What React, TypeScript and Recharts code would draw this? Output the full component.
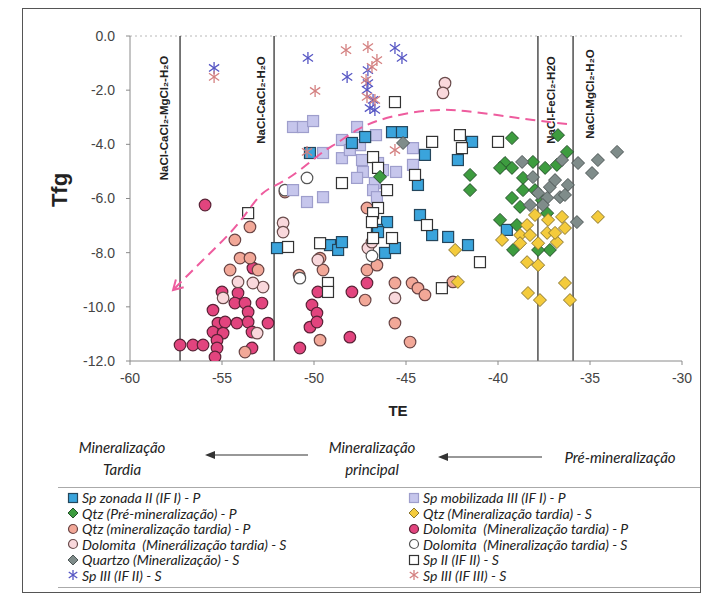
import { ScatterChart, Scatter, XAxis, YAxis, ReferenceLine } from "recharts";

// TE (x) / Tfg (y) readings, one list per series
const spZonadaII = [
  [-50.22, -4.32], [-47.94, -3.95], [-47.22, -3.73], [-45.76, -3.55], [-45.22, -3.55],
  [-46.03, -6.87], [-46.58, -7.16], [-43.97, -4.39], [-44.35, -5.5], [-41.41, -3.91],
  [-42.18, -4.58], [-44.24, -6.61], [-43.58, -7.35], [-42.71, -7.42], [-39.52, -7.16],
  [-49.13, -7.72], [-48.69, -7.9], [-48.48, -7.61], [-46.52, -7.24], [-46.14, -8.01],
  [-45.6, -7.83], [-41.63, -7.72], [-52.01, -7.83],
];
const spMobilizadaIII = [
  [-51.14, -3.36], [-50.6, -3.36], [-50.05, -3.14], [-47.66, -3.36], [-46.63, -3.66],
  [-48.48, -3.84], [-47.5, -4.03], [-49.51, -4.32], [-48.48, -4.51], [-47.39, -4.58],
  [-46.52, -4.69], [-47.34, -5.02], [-45.54, -5.02], [-44.62, -4.76], [-44.62, -4.14],
  [-51.14, -5.69], [-50.38, -6.13], [-49.51, -5.95], [-47.66, -5.24], [-46.69, -5.43],
  [-46.79, -5.69], [-46.58, -5.95], [-48.05, -4.21], [-46.25, -4.95],
];
const spII = [
  [-45.6, -2.44], [-46.79, -4.47], [-46.52, -4.87], [-48.48, -5.43], [-46.03, -5.69],
  [-46.52, -6.35], [-46.79, -6.54], [-46.85, -6.87], [-43.58, -3.91], [-42.07, -3.66],
  [-41.96, -4.14], [-44.51, -5.13], [-40.0, -3.91], [-43.86, -6.98], [-46.79, -7.46],
  [-45.76, -7.46], [-49.67, -7.65], [-49.24, -9.12], [-49.24, -9.45], [-43.05, -9.31],
  [-40.98, -8.35], [-53.58, -6.54], [-51.41, -7.79],
];
const spIIIifII = [
  [-55.43, -1.18], [-50.33, -0.81], [-48.2, -1.51], [-45.6, -0.44], [-45.22, -0.81],
  [-47.07, -1.26], [-47.07, -1.74], [-47.12, -1.99], [-46.96, -2.66], [-46.69, -2.73],
  [-46.79, -2.36],
];
const spIIIifIII = [
  [-55.43, -1.51], [-48.26, -0.52], [-47.07, -0.41], [-46.58, -0.89], [-49.94, -2.03],
  [-47.12, -2.25], [-46.69, -2.36], [-50.38, -4.28], [-45.6, -4.21], [-46.85, -1.14],
  [-47.17, -1.62],
];
const quartzo = [
  [-38.69, -4.65], [-33.53, -4.28], [-34.57, -4.58], [-34.89, -5.06], [-35.65, -4.69],
  [-36.52, -4.58], [-36.2, -5.5], [-37.18, -5.58], [-36.63, -5.95], [-37.33, -5.98],
  [-38.26, -6.24], [-37.82, -5.8], [-36.36, -5.87], [-35.71, -6.87], [-38.1, -5.21],
  [-45.16, -3.95], [-36.9, -5.32], [-37.56, -6.24],
];
const qtzPre = [
  [-39.24, -3.77], [-39.62, -4.69], [-39.24, -4.87], [-38.64, -5.24], [-38.1, -4.65],
  [-37.44, -4.87], [-36.25, -4.28], [-36.8, -4.76], [-36.74, -3.66], [-38.64, -5.69],
  [-37.99, -5.69], [-39.24, -5.98], [-38.8, -6.31], [-37.61, -6.06], [-39.89, -6.79],
  [-38.97, -6.98], [-41.52, -5.13], [-41.52, -5.69], [-39.89, -4.87], [-46.41, -5.2],
  [-39.18, -7.9], [-37.18, -7.9], [-37.82, -7.9], [-37.33, -6.54],
];
const qtzTardiaS = [
  [-34.57, -6.68], [-36.52, -6.68], [-37.28, -6.79], [-37.99, -6.61], [-38.42, -6.98],
  [-38.8, -7.35], [-38.26, -7.35], [-39.78, -7.53], [-38.8, -7.65], [-37.82, -7.65],
  [-36.8, -7.61], [-37.33, -7.27], [-36.36, -7.09], [-36.9, -7.27], [-38.42, -8.35],
  [-37.82, -8.46], [-36.36, -9.12], [-38.37, -9.49], [-37.72, -9.75], [-36.09, -9.75],
  [-42.33, -7.9], [-42.18, -9.08],
];
const dolomitaP = [
  [-55.92, -6.24], [-53.32, -8.57], [-55.0, -9.45], [-54.13, -9.49], [-54.3, -9.86],
  [-53.75, -9.86], [-52.83, -9.86], [-55.49, -10.12], [-53.58, -10.19], [-55.22, -10.6],
  [-54.83, -10.56], [-54.19, -10.6], [-53.58, -10.56], [-52.5, -10.6], [-55.49, -10.93],
  [-54.94, -10.97], [-55.27, -11.23], [-57.28, -11.41], [-56.58, -11.41], [-56.03, -11.41],
  [-55.27, -11.52], [-55.38, -11.85], [-53.37, -11.52], [-53.37, -10.93], [-49.79, -9.45],
  [-50.11, -9.93], [-49.84, -10.23], [-50.22, -10.75], [-50.77, -11.52], [-47.94, -9.45],
  [-47.12, -9.12], [-48.05, -11.12], [-49.84, -10.56],
];
const qtzTardiaP = [
  [-53.48, -7.05], [-54.3, -7.53], [-54.02, -8.2], [-53.48, -8.2], [-54.56, -8.64],
  [-53.04, -8.64], [-53.75, -11.67], [-51.58, -5.76], [-47.12, -6.35], [-49.67, -8.2],
  [-49.51, -8.64], [-47.12, -8.64], [-46.58, -8.46], [-45.6, -9.12], [-44.67, -9.12],
  [-44.35, -9.31], [-43.97, -9.56], [-47.22, -9.75], [-45.6, -10.6], [-44.78, -11.3],
  [-49.67, -11.23], [-42.45, -9.08], [-50.81, -8.83],
];
const dolomitaSpink = [
  [-42.88, -1.74], [-42.99, -2.1], [-52.77, -9.27], [-54.13, -9.08], [-53.32, -9.12],
  [-54.94, -9.67], [-53.09, -10.97], [-51.68, -6.9], [-51.68, -7.24], [-49.79, -8.27],
  [-47.07, -7.83], [-45.6, -9.67], [-46.85, -7.61],
];
const dolomitaSwhite = [[-50.38, -5.24], [-51.58, -5.69], [-46.85, -8.12], [-50.77, -8.94]];

// trend arrow (dashed)
const trend = [
  [-36.25, -3.25], [-38.1, -3.1], [-40.05, -2.92], [-41.79, -2.77], [-43.15, -2.73],
  [-44.78, -2.84], [-46.41, -3.1], [-47.66, -3.47], [-48.75, -3.95], [-49.51, -4.28],
  [-50.77, -4.95], [-51.85, -5.43], [-52.77, -5.8], [-53.64, -6.5], [-54.56, -7.27],
  [-56.03, -8.27], [-57.66, -9.38],
];

const xTicks = [-60, -55, -50, -45, -40, -35, -30];
const yTicks = [-12, -10, -8, -6, -4, -2, 0];
const eutectics = [-57.28, -52.17, -37.83, -35.92];
const systemNames = ["NaCl-CaCl₂-MgCl₂-H₂O", "NaCl-CaCl₂-H₂O", "NaCl-FeCl₂-H2O", "NaCl-MgCl₂-H₂O"];
const labelDx = [-16, -13, 13, 17];
const labelDy = [82, 64, 64, 58];

const pts = (a: number[][]) => a.map(([x, y]) => ({ x, y }));

const square = (fill: string, stroke: string, s = 11) => (p: any) =>
  <rect x={p.cx - s / 2} y={p.cy - s / 2} width={s} height={s} fill={fill} stroke={stroke} strokeWidth={1.2} />;
const diamond = (fill: string, stroke: string, r = 6.5) => (p: any) =>
  <path d={`M${p.cx},${p.cy - r}L${p.cx + r},${p.cy}L${p.cx},${p.cy + r}L${p.cx - r},${p.cy}Z`} fill={fill} stroke={stroke} strokeWidth={1} />;
const circle = (fill: string, stroke: string, r = 5.8) => (p: any) =>
  <circle cx={p.cx} cy={p.cy} r={r} fill={fill} stroke={stroke} strokeWidth={1.2} />;
const star = (stroke: string, r = 6) => (p: any) => (
  <g stroke={stroke} strokeWidth={1.3}>
    <line x1={p.cx} y1={p.cy - r} x2={p.cx} y2={p.cy + r} />
    <line x1={p.cx - r * 0.85} y1={p.cy - r * 0.6} x2={p.cx + r * 0.85} y2={p.cy + r * 0.6} />
    <line x1={p.cx - r * 0.85} y1={p.cy + r * 0.6} x2={p.cx + r * 0.85} y2={p.cy - r * 0.6} />
  </g>
);

const C = {
  blue: ["#3aa4dc", "#24465c"],
  lav: ["#c6c6ec", "#9e9ecc"],
  white: ["#ffffff", "#333333"],
  green: ["#3d9c3f", "#24502a"],
  gray: ["#7f8c8a", "#4e5656"],
  yellow: ["#f4cb3c", "#8a7630"],
  hot: ["#e2447e", "#5a2236"],
  salmon: ["#f2a898", "#6a4444"],
  light: ["#f9d8dc", "#6a4c4c"],
  starBlue: "#5656c4",
  starPink: "#d48080",
};

const arrowHead = (p: any) => {
  const a = (-45 * Math.PI) / 180;
  const w = (30 * Math.PI) / 180;
  const L = 11;
  const p1 = [p.cx + L * Math.cos(a + w), p.cy + L * Math.sin(a + w)];
  const p2 = [p.cx + L * Math.cos(a - w), p.cy + L * Math.sin(a - w)];
  return (
    <path d={`M${p1[0]},${p1[1]}L${p.cx},${p.cy}L${p2[0]},${p2[1]}`} fill="none" stroke="#ee5c9e" strokeWidth={2} />
  );
};

const legendLeft: [string, string][] = [
  ["Sp zonada II (IF I) - P", "sq-blue"],
  ["Qtz (Pré-mineralização) - P", "di-green"],
  ["Qtz (mineralização tardia) - P", "ci-salmon"],
  ["Dolomita  (Minerálização tardia) - S", "ci-light"],
  ["Quartzo (Mineralização) - S", "di-gray"],
  ["Sp III (IF II) - S", "st-blue"],
];
const legendRight: [string, string][] = [
  ["Sp mobilizada III (IF I) - P", "sq-lav"],
  ["Qtz (Mineralização tardia) - S", "di-yellow"],
  ["Dolomita  (Mineralização tardia) - P", "ci-hot"],
  ["Dolomita  (Mineralização tardia) - S", "ci-white"],
  ["Sp II (IF II) - S", "sq-white"],
  ["Sp III (IF III) - S", "st-pink"],
];

function Marker({ kind }: { kind: string }) {
  const p = { cx: 6, cy: 6 };
  const m: Record<string, any> = {
    "sq-blue": square(C.blue[0], C.blue[1], 9)(p),
    "sq-lav": square(C.lav[0], C.lav[1], 9)(p),
    "sq-white": square(C.white[0], C.white[1], 9)(p),
    "di-green": diamond(C.green[0], C.green[1], 5)(p),
    "di-gray": diamond(C.gray[0], C.gray[1], 5)(p),
    "di-yellow": diamond(C.yellow[0], C.yellow[1], 5)(p),
    "ci-salmon": circle(C.salmon[0], C.salmon[1], 4.5)(p),
    "ci-light": circle(C.light[0], C.light[1], 4.5)(p),
    "ci-hot": circle(C.hot[0], C.hot[1], 4.5)(p),
    "ci-white": circle("#fff", "#555", 4.5)(p),
    "st-blue": star(C.starBlue, 5)(p),
    "st-pink": star(C.starPink, 5)(p),
  };
  return (
    <svg width={12} height={12} style={{ marginRight: 3, flex: "none" }}>
      {m[kind]}
    </svg>
  );
}

const italic: React.CSSProperties = {
  position: "absolute",
  fontFamily: "Lato, 'Open Sans', sans-serif",
  fontStyle: "italic",
  fontSize: 15,
  color: "#222",
  whiteSpace: "nowrap",
};

export default function App() {
  return (
    <div style={{ position: "absolute", left: 0, top: 0, width: 715, height: 597, background: "#fff", overflow: "hidden" }}>
      <div style={{ position: "absolute", left: 22, top: 8, width: 677, height: 583, border: "1px solid #555" }} />
      <div style={{ position: "absolute", left: 0, top: 0 }}>
        <ScatterChart width={715} height={420} margin={{ top: 36, right: 33, bottom: 29, left: 70 }}>
          <XAxis
            type="number"
            dataKey="x"
            domain={[-60, -30]}
            ticks={xTicks}
            allowDataOverflow
            axisLine={{ stroke: "#8a8a8a" }}
            tickLine={{ stroke: "#8a8a8a" }}
            tickSize={4}
            tickMargin={8}
            tick={{ fill: "#444", fontSize: 14, fontFamily: "Liberation Sans, Arial" }}
            height={30}
          />
          <YAxis
            type="number"
            dataKey="y"
            domain={[-12, 0]}
            ticks={yTicks}
            allowDataOverflow
            axisLine={{ stroke: "#8a8a8a" }}
            tickLine={{ stroke: "#8a8a8a" }}
            tickSize={4}
            tickMargin={11}
            tickFormatter={(v: number) => v.toFixed(1)}
            tick={{ fill: "#444", fontSize: 14, fontFamily: "Liberation Sans, Arial" }}
            width={60}
          />
          <ReferenceLine y={0} stroke="#b8b8b8" strokeDasharray="2 3" />
          {eutectics.map((v, i) => (
            <ReferenceLine
              key={v}
              x={v}
              stroke="#333"
              strokeWidth={1.3}
              label={(p: any) => {
                const vb = p.viewBox || {};
                const cx = vb.x + labelDx[i];
                const cy = vb.y + labelDy[i];
                return (
                  <text
                    transform={`translate(${cx},${cy}) rotate(-90)`}
                    textAnchor="middle"
                    dominantBaseline="central"
                    fontFamily="Liberation Sans, Arial"
                    fontWeight="bold"
                    fontSize={11.5}
                    fill="#222"
                  >
                    {systemNames[i]}
                  </text>
                );
              }}
            />
          ))}
          <Scatter data={pts(dolomitaP)} shape={circle(C.hot[0], C.hot[1])} isAnimationActive={false} />
          <Scatter data={pts(qtzTardiaP)} shape={circle(C.salmon[0], C.salmon[1])} isAnimationActive={false} />
          <Scatter data={pts(dolomitaSpink)} shape={circle(C.light[0], C.light[1])} isAnimationActive={false} />
          <Scatter data={pts(dolomitaSwhite)} shape={circle("#fff", "#555")} isAnimationActive={false} />
          <Scatter data={pts(spMobilizadaIII)} shape={square(C.lav[0], C.lav[1])} isAnimationActive={false} />
          <Scatter data={pts(spZonadaII)} shape={square(C.blue[0], C.blue[1])} isAnimationActive={false} />
          <Scatter data={pts(spII)} shape={square(C.white[0], C.white[1])} isAnimationActive={false} />
          <Scatter data={pts(qtzPre)} shape={diamond(C.green[0], C.green[1])} isAnimationActive={false} />
          <Scatter data={pts(quartzo)} shape={diamond(C.gray[0], C.gray[1])} isAnimationActive={false} />
          <Scatter data={pts(qtzTardiaS)} shape={diamond(C.yellow[0], C.yellow[1])} isAnimationActive={false} />
          <Scatter data={pts(spIIIifII)} shape={star(C.starBlue)} isAnimationActive={false} />
          <Scatter data={pts(spIIIifIII)} shape={star(C.starPink)} isAnimationActive={false} />
          <Scatter
            data={pts(trend)}
            line={{ stroke: "#ee5c9e", strokeWidth: 2, strokeDasharray: "10 6" }}
            lineJointType="natural"
            shape={() => <g />}
            isAnimationActive={false}
          />
          <Scatter data={pts(trend.slice(-1))} shape={arrowHead} isAnimationActive={false} />
        </ScatterChart>
      </div>

      <div
        style={{
          position: "absolute",
          left: 60,
          top: 190,
          transform: "translate(-50%,-50%) rotate(-90deg)",
          fontFamily: "Liberation Sans, Arial",
          fontWeight: "bold",
          fontSize: 22,
          color: "#222",
        }}
      >
        Tfg
      </div>
      <div
        style={{
          position: "absolute",
          left: 398,
          top: 410,
          transform: "translate(-50%,-50%)",
          fontFamily: "Liberation Sans, Arial",
          fontWeight: "bold",
          fontSize: 15,
          color: "#222",
        }}
      >
        TE
      </div>

      <div style={{ ...italic, left: 122, top: 447, transform: "translate(-50%,-50%)" }}>Mineralização</div>
      <div style={{ ...italic, left: 122, top: 469, transform: "translate(-50%,-50%)" }}>Tardia</div>
      <div style={{ ...italic, left: 372, top: 447, transform: "translate(-50%,-50%)" }}>Mineralização</div>
      <div style={{ ...italic, left: 372, top: 469, transform: "translate(-50%,-50%)" }}>principal</div>
      <div style={{ ...italic, left: 620, top: 457, transform: "translate(-50%,-50%)" }}>Pré-mineralização</div>
      <svg style={{ position: "absolute", left: 0, top: 440 }} width={715} height={30}>
        <g stroke="#333" strokeWidth={1.2}>
          <line x1={212} y1={15} x2={308} y2={15} />
          <line x1={445} y1={17} x2={542} y2={17} />
        </g>
        <path d="M205,15L215,11L215,19Z" fill="#333" />
        <path d="M438,17L448,13L448,21Z" fill="#333" />
      </svg>

      <div style={{ position: "absolute", left: 58, top: 487, width: 642, height: 0, borderTop: "1px solid #aaa" }} />
      <div style={{ position: "absolute", left: 58, top: 587, width: 642, height: 0, borderTop: "1px solid #aaa" }} />
      {[legendLeft, legendRight].map((col, ci) => (
        <div key={ci} style={{ position: "absolute", left: ci === 0 ? 67 : 408, top: 490 }}>
          {col.map(([label, kind]) => (
            <div
              key={label}
              style={{
                display: "flex",
                alignItems: "center",
                height: 15.5,
                fontFamily: "Lato, 'Open Sans', sans-serif",
                fontStyle: "italic",
                fontSize: 14,
                color: "#222",
                whiteSpace: "pre",
              }}
            >
              <Marker kind={kind} />
              {label}
            </div>
          ))}
        </div>
      ))}
    </div>
  );
}
